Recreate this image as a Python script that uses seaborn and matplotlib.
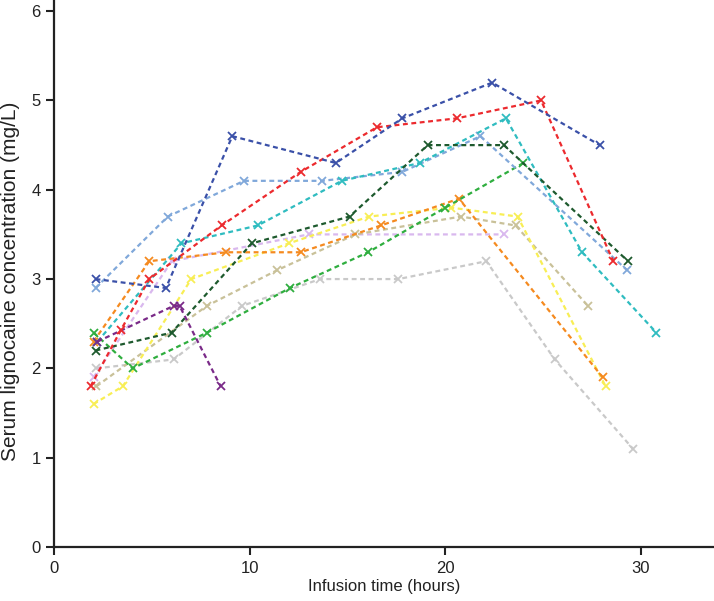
import matplotlib
matplotlib.use("Agg")
import matplotlib.pyplot as plt
from matplotlib import font_manager
import seaborn as sns
import pandas as pd

# ---- data ----
dark_blue_x = [2.1, 5.7, 9.1, 14.4, 17.8, 22.4, 27.9]
dark_blue_y = [3.0, 2.9, 4.6, 4.3, 4.8, 5.2, 4.5]

red_x = [1.85, 3.4, 4.85, 8.55, 12.6, 16.5, 20.6, 24.9, 28.6]
red_y = [1.8, 2.43, 3.0, 3.6, 4.2, 4.7, 4.8, 5.0, 3.2]

light_blue_x = [2.1, 5.8, 9.7, 13.7, 17.8, 21.8, 29.3]
light_blue_y = [2.9, 3.7, 4.1, 4.1, 4.2, 4.6, 3.1]

cyan_x = [2.2, 6.5, 10.4, 14.7, 18.7, 23.1, 27.0, 30.8]
cyan_y = [2.3, 3.4, 3.6, 4.1, 4.3, 4.8, 3.3, 2.4]

dark_green_x = [2.1, 6.0, 10.1, 15.1, 19.1, 23.0, 29.35]
dark_green_y = [2.2, 2.4, 3.4, 3.7, 4.5, 4.5, 3.2]

green_x = [2.0, 4.0, 7.8, 12.05, 16.05, 20.0, 24.0]
green_y = [2.4, 2.0, 2.4, 2.9, 3.3, 3.8, 4.3]

orange_x = [2.0, 4.85, 8.8, 12.6, 16.7, 20.7, 28.05]
orange_y = [2.3, 3.2, 3.3, 3.3, 3.6, 3.9, 1.9]

yellow_x = [2.0, 3.5, 7.0, 12.0, 16.1, 20.3, 23.7, 28.2]
yellow_y = [1.6, 1.8, 3.0, 3.4, 3.7, 3.8, 3.7, 1.8]

tan_x = [2.15, 7.8, 11.4, 15.4, 20.8, 23.6, 27.3]
tan_y = [1.8, 2.7, 3.1, 3.5, 3.7, 3.6, 2.7]

gray_x = [2.15, 6.1, 9.6, 13.6, 17.6, 22.1, 25.6, 29.6]
gray_y = [2.0, 2.1, 2.7, 3.0, 3.0, 3.2, 2.1, 1.1]

lavender_x = [2.0, 6.0, 13.0, 23.0]
lavender_y = [1.9, 3.2, 3.5, 3.5]

purple_x = [2.2, 6.1, 6.4, 8.5]
purple_y = [2.3, 2.7, 2.7, 1.8]

series = [
    ("gray", gray_x, gray_y, "#c9c9c9"),
    ("lavender", lavender_x, lavender_y, "#d9b8ee"),
    ("tan", tan_x, tan_y, "#c9c199"),
    ("yellow", yellow_x, yellow_y, "#f8ee55"),
    ("orange", orange_x, orange_y, "#f58a1f"),
    ("green", green_x, green_y, "#2fae3f"),
    ("light_blue", light_blue_x, light_blue_y, "#80a8da"),
    ("cyan", cyan_x, cyan_y, "#2fbcc0"),
    ("dark_green", dark_green_x, dark_green_y, "#1e5a2e"),
    ("purple", purple_x, purple_y, "#7a2a88"),
    ("red", red_x, red_y, "#ec2a2e"),
    ("dark_blue", dark_blue_x, dark_blue_y, "#3a50a8"),
]

x_ticks = [0, 10, 20, 30]
y_ticks = [0, 1, 2, 3, 4, 5, 6]

sns.set_theme(style="ticks")
plt.rcParams["font.family"] = ["Liberation Sans", "DejaVu Sans"]

installed = {f.name for f in font_manager.fontManager.ttflist}
if "Liberation Sans Narrow" in installed:
    narrow_family = ["Liberation Sans Narrow", "Liberation Sans"]
    tick_size, xlab_size = 14, 14.5
else:
    narrow_family = ["Liberation Sans", "DejaVu Sans"]
    tick_size, xlab_size = 12, 12

fig = plt.figure(figsize=(7.14, 6.01), dpi=100)
ax = fig.add_axes([0.0763, 0.0899, 0.9237, 0.9101])

for name, xs, ys, col in series:
    df = pd.DataFrame({"t": xs, "c": ys})
    sns.lineplot(data=df, x="t", y="c", ax=ax, sort=False, estimator=None,
                 color=col, linestyle=(0, (2.2, 1.6)), linewidth=1.6,
                 marker="x", markersize=6, markeredgewidth=1.3,
                 markeredgecolor=col, legend=False)

ax.set_xlim(0, 33.75)
ax.set_ylim(0, 6.125)
ax.set_xticks(x_ticks)
ax.set_yticks(y_ticks)
ax.tick_params(axis="both", direction="out", length=6, width=1.5,
               color="#222222", labelcolor="#222222", pad=4)
for lab in ax.get_xticklabels() + ax.get_yticklabels():
    lab.set_family(narrow_family)
    lab.set_fontsize(tick_size)
for s in ["top", "right"]:
    ax.spines[s].set_visible(False)
for s in ["left", "bottom"]:
    ax.spines[s].set_linewidth(1.6)
    ax.spines[s].set_color("#222222")

ax.set_xlabel("Infusion time (hours)", fontsize=xlab_size, family=narrow_family,
              color="#222222", labelpad=2)
ax.set_ylabel("Serum lignocaine concentration (mg/L)", fontsize=15,
              family=["Liberation Sans", "DejaVu Sans"],
              color="#222222")
ax.yaxis.set_label_coords(-0.053, 0.485)

fig.savefig("out.png", dpi=100)
